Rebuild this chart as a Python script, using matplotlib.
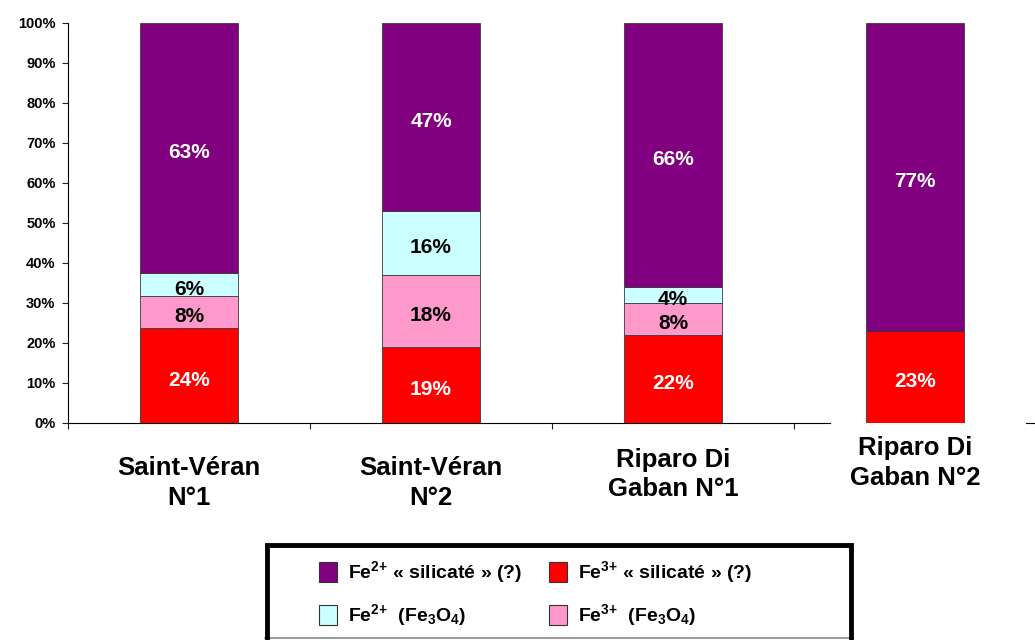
import matplotlib
matplotlib.use("Agg")
import matplotlib.pyplot as plt
import numpy as np
from matplotlib.patches import Rectangle

plt.rcParams["font.family"] = ["Liberation Sans", "DejaVu Sans"]
plt.rcParams["font.weight"] = "bold"
plt.rcParams["mathtext.default"] = "regular"

# ---- data (percent of total Fe per sample) ----
samples = ["Saint-Véran\nN°1", "Saint-Véran\nN°2", "Riparo Di\nGaban N°1", "Riparo Di\nGaban N°2"]
fe3_sil = np.array([24, 19, 22, 23])     # Fe3+ « silicaté »
fe3_mag = np.array([8, 18, 8, 0])        # Fe3+ (Fe3O4)
fe2_mag = np.array([6, 16, 4, 0])        # Fe2+ (Fe3O4)
fe2_sil = np.array([63, 47, 66, 77])     # Fe2+ « silicaté »

series = [fe3_sil, fe3_mag, fe2_mag, fe2_sil]
colors = ["#FF0000", "#FF99CC", "#CCFFFF", "#800080"]
text_colors = ["white", "black", "black", "white"]
legend_labels = [
    "Fe$^{3{+}}$ « silicaté » (?)",
    "Fe$^{3{+}}$  (Fe$_3$O$_4$)",
    "Fe$^{2{+}}$  (Fe$_3$O$_4$)",
    "Fe$^{2{+}}$ « silicaté » (?)",
]

# 100 % stacking: each bar is normalised to its own total
totals = np.sum(series, axis=0)
shares = [s / totals * 100 for s in series]

W, H = 1035, 640
fig = plt.figure(figsize=(W / 100, H / 100), dpi=100)
fig.patch.set_facecolor("white")

def px_box(x0, y0, x1, y1):
    return [x0 / W, 1 - y1 / H, (x1 - x0) / W, (y1 - y0) / H]

ax = fig.add_axes(px_box(68, 23, 1036, 423))
x = np.arange(len(samples))
bottom = np.zeros(len(samples))
for vals, share, col, tcol in zip(series, shares, colors, text_colors):
    ax.bar(x, share, width=0.405, bottom=bottom, color=col,
           edgecolor="#3a3a3a", linewidth=0.6, zorder=2)
    for xi, v, b, h in zip(x, vals, bottom, share):
        if v > 0:
            ax.text(xi, b + h / 2 - 1.2, f"{v}%", ha="center", va="center",
                    fontsize=15, fontweight="bold", color=tcol, zorder=3)
    bottom += share

ax.set_xlim(-0.5, 3.5)
ax.set_ylim(0, 100)
ax.set_yticks(np.arange(0, 101, 10))
ax.set_yticklabels([f"{t}%" for t in range(0, 101, 10)], fontsize=10.5, fontweight="bold")
ax.set_xticks([-0.5, 0.5, 1.5, 2.5])
ax.set_xticklabels([])
ax.tick_params(axis="both", direction="out", length=4, width=0.8, color="#222222")
ax.tick_params(axis="y", pad=5)
for side in ("top", "right"):
    ax.spines[side].set_visible(False)
ax.spines["left"].set_linewidth(0.8)
ax.spines["bottom"].set_linewidth(0.8)
ax.spines["bottom"].set_bounds(-0.5, 2.65)
ax.plot([3.46, 3.5], [0, 0], color="black", lw=0.8, clip_on=False)

# category labels sit at slightly different depths under the axis
label_offsets = [-43, -43, -37, -29]
for xi, name, off in zip(x, samples, label_offsets):
    ax.annotate(name, (xi, 0), xycoords=("data", "axes fraction"),
                xytext=(0, off), textcoords="offset points",
                ha="center", va="center", fontsize=18.5, fontweight="bold",
                linespacing=1.3)

# ---- legend box ----
lax = fig.add_axes([0, 0, 1, 1], facecolor="none")
lax.set_xlim(0, W)
lax.set_ylim(H, 0)
lax.axis("off")
lax.plot([265, 853], [638, 638], color="#888888", lw=1.2)
lax.plot([267, 267, 851, 851], [640, 545, 545, 640], color="black", lw=3.5,
         solid_joinstyle="miter")

legend_order = [3, 0, 2, 1]
cols_x = [319, 549]
rows_y = [572, 615]
for k, idx in enumerate(legend_order):
    cx = cols_x[k % 2]
    cy = rows_y[k // 2]
    lax.add_patch(Rectangle((cx, cy - 10), 18, 20, facecolor=colors[idx],
                            edgecolor="#333333", lw=0.8))
    lax.text(cx + 29, cy, legend_labels[idx], ha="left", va="center",
             fontsize=14, fontweight="bold")

fig.savefig("out.png", dpi=100, facecolor="white")
